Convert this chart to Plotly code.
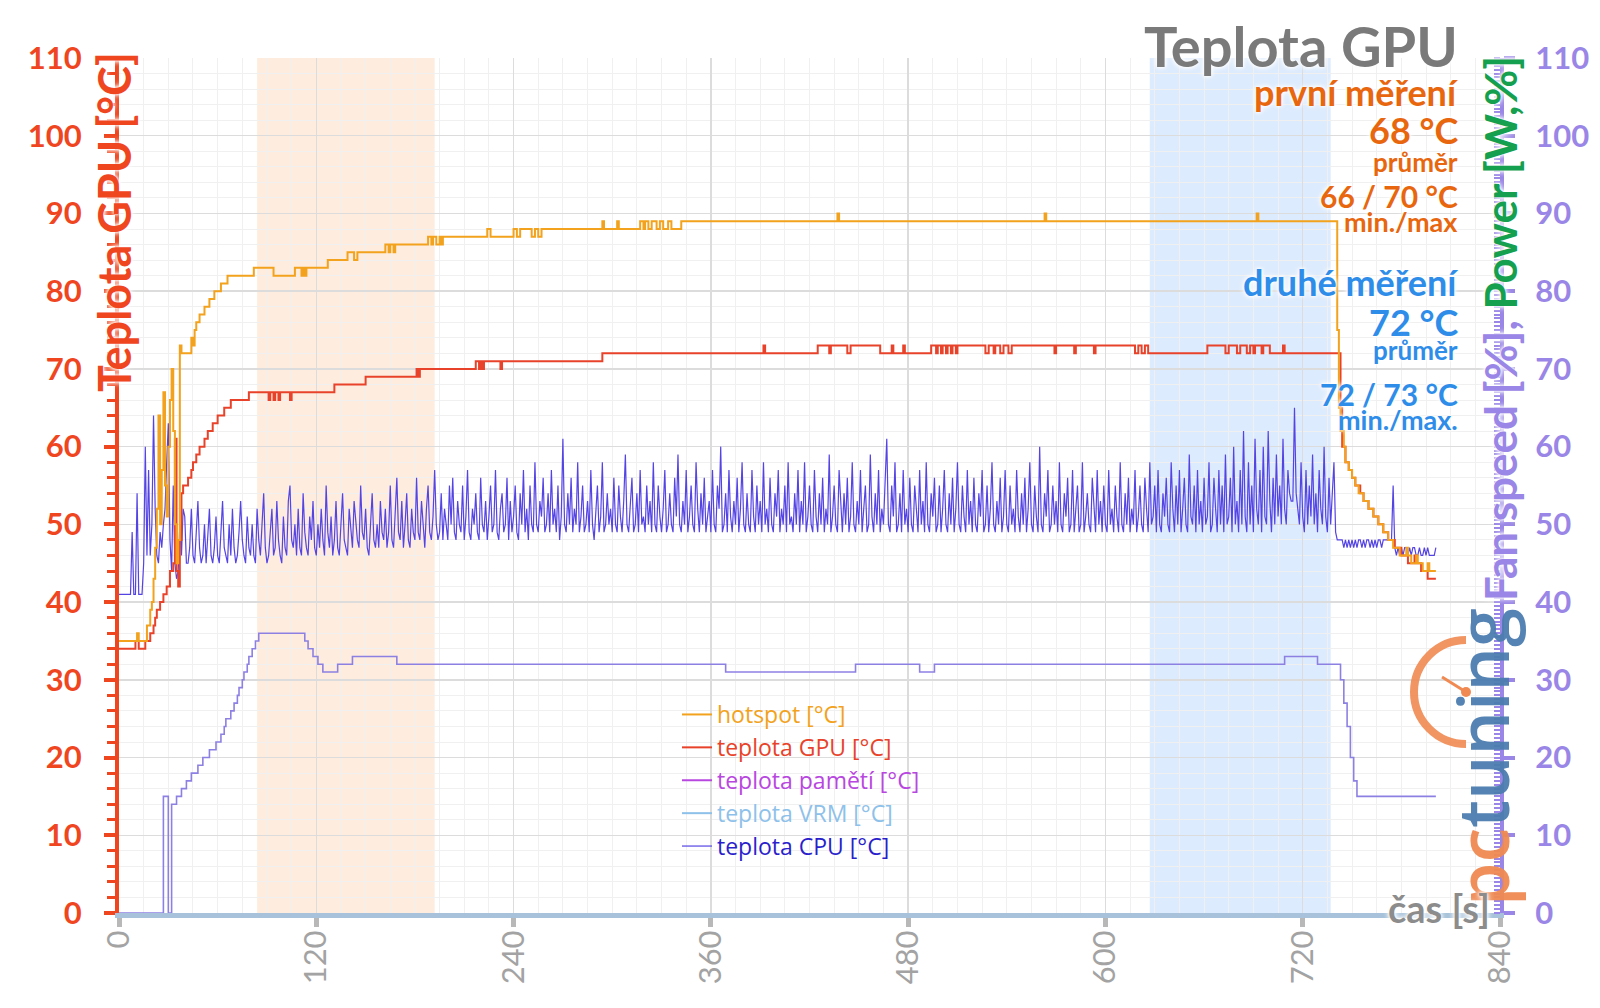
import plotly.graph_objects as go

# ------------------------------------------------------------------ data
# hotspot [°C] (change points, step shape)
hotspot_t = [0, 11, 12, 17, 19, 20, 21, 22, 23, 24, 25, 26, 27, 28, 29, 30, 31, 32, 33, 34, 35, 36, 37, 38,
             44, 45, 46, 47, 49, 52, 55, 58, 62, 66, 82, 94, 107, 111, 112, 113, 114, 127, 139, 143, 145,
             162, 164, 165, 167, 168, 188, 190, 191, 193, 195, 196, 197, 224, 226, 240, 242, 244, 251, 253,
             255, 257, 294, 295, 303, 304, 317, 319, 320, 322, 324, 327, 329, 331, 334, 336, 342, 437, 438,
             563, 564, 692, 693, 741, 742, 743, 745, 746, 748, 750, 752, 754, 757, 760, 763, 766, 769, 772,
             775, 779, 783, 784, 786, 789, 790, 793, 796, 797, 801]
hotspot_v = [35, 36, 35, 37, 39, 40, 43, 47, 52, 64, 50, 57, 67, 55, 51, 60, 66, 70, 62, 50, 45, 48, 73, 72,
             74, 73, 75, 76, 77, 78, 79, 80, 81, 82, 83, 82, 83, 82, 83, 82, 83, 84, 85, 84, 85,
             86, 85, 86, 85, 86, 87, 86, 87, 86, 87, 86, 87, 88, 87, 88, 87, 88, 87, 88,
             87, 88, 89, 88, 89, 88, 89, 88, 89, 88, 89, 88, 89, 88, 89, 88, 89, 90, 89,
             90, 89, 90, 89, 75, 65, 62, 60, 58, 57, 56, 55, 54, 53, 52, 51, 50, 49, 48,
             47, 46, 47, 46, 45, 46, 45, 44, 45, 44, 44]

# teplota GPU [°C]
gpu_t = [0, 10, 12, 16, 19, 21, 22, 23, 25, 27, 29, 31, 33, 34, 35, 36, 37, 38, 39, 42, 44, 45, 47, 49,
         52, 54, 57, 60, 64, 68, 79, 91, 92, 94, 95, 97, 98, 104, 105, 131, 150, 181, 182, 183, 217, 219,
         220, 221, 222, 232, 233, 294, 392, 393, 425, 432, 433, 443, 445, 463, 470, 471, 477, 478, 494,
         497, 498, 500, 501, 503, 504, 506, 507, 509, 510, 527, 529, 532, 533, 536, 538, 541, 543, 569,
         570, 581, 582, 593, 594, 618, 620, 622, 624, 626, 662, 673, 675, 680, 682, 686, 688, 690, 691,
         695, 696, 700, 708, 709, 743, 744, 746, 748, 750, 752, 755, 757, 760, 763, 766, 769, 772, 776,
         780, 784, 788, 789, 792, 796, 801]
gpu_v = [34, 35, 34, 35, 36, 37, 38, 39, 40, 41, 42, 44, 45, 61, 44, 42, 48, 54, 55, 56, 57, 58, 59, 60,
         61, 62, 63, 64, 65, 66, 67, 66, 67, 66, 67, 66, 67, 66, 67, 68, 69, 70, 69, 70, 71, 70,
         71, 70, 71, 70, 71, 72, 73, 72, 73, 72, 73, 72, 73, 72, 73, 72, 73, 72, 73,
         72, 73, 72, 73, 72, 73, 72, 73, 72, 73, 72, 73, 72, 73, 72, 73, 72, 73, 72,
         73, 72, 73, 72, 73, 72, 73, 72, 73, 72, 73, 72, 73, 72, 73, 72, 73, 72, 73,
         72, 73, 72, 73, 72, 65, 60, 58, 57, 56, 55, 54, 53, 52, 51, 50, 49, 48, 47,
         46, 45, 46, 45, 44, 43, 43]

# fan speed [%] (right axis)
fan_t = [0, 27, 30, 32, 35, 38, 41, 44, 48, 51, 55, 59, 62, 64, 65, 68, 70, 72, 73, 75, 76, 78, 79, 81,
         83, 85, 113, 115, 118, 121, 124, 133, 142, 169, 369, 448, 487, 496, 709, 729, 743, 745, 747,
         749, 751, 753, 801]
fan_v = [0, 15, 0, 14, 15, 16, 17, 18, 19, 20, 21, 22, 23, 24, 25, 26, 27, 28, 29, 30, 31, 32, 33, 34,
         35, 36, 35, 34, 33, 32, 31, 32, 33, 32, 31, 32, 31, 32, 33, 32, 30, 27, 24,
         20, 17, 15, 15]

# teplota CPU [°C], one sample per second from t = 0 s
cpu_v = [
    41, 41, 41, 41, 41, 41, 41, 41, 49, 41, 41, 54, 41, 41, 41, 45, 60, 46, 57, 46, 50, 64,
    52, 46, 45, 49, 47, 50, 52, 58, 63, 48, 44, 55, 45, 43, 44, 50, 46, 52, 51, 45,
    45, 47, 52, 46, 45, 49, 53, 47, 45, 46, 50, 45, 48, 52, 46, 45, 47, 51, 46, 45,
    49, 53, 47, 46, 45, 50, 46, 52, 47, 45, 46, 49, 53, 48, 46, 45, 51, 47, 46, 50,
    46, 45, 52, 48, 46, 50, 54, 47, 45, 46, 49, 52, 46, 47, 53, 48, 46, 45, 51, 47,
    46, 53, 55, 48, 47, 50, 46, 52, 47, 46, 54, 49, 47, 46, 51, 48, 53, 47, 46, 50,
    47, 52, 48, 46, 55, 49, 47, 51, 46, 48, 53, 47, 46, 50, 54, 48, 47, 46, 52, 49,
    47, 53, 50, 48, 47, 55, 49, 48, 52, 47, 46, 51, 54, 48, 47, 50, 47, 53, 49, 48,
    52, 47, 49, 55, 48, 47, 51, 56, 49, 48, 53, 47, 50, 54, 48, 47, 52, 49, 48, 56,
    49, 48, 53, 50, 47, 52, 55, 49, 48, 51, 57, 50, 48, 49, 54, 48, 52, 50, 48, 55,
    50, 56, 49, 48, 53, 50, 49, 55, 48, 51, 57, 49, 48, 52, 50, 54, 49, 48, 56, 50,
    49, 53, 48, 51, 55, 49, 50, 57, 49, 48, 52, 54, 49, 50, 56, 48, 53, 49, 51, 55,
    49, 48, 54, 50, 57, 49, 52, 48, 55, 50, 49, 58, 50, 49, 53, 51, 56, 49, 50, 54,
    49, 57, 50, 52, 49, 55, 48, 51, 61, 50, 49, 54, 50, 56, 49, 52, 50, 58, 49, 51,
    55, 49, 50, 53, 49, 57, 50, 48, 52, 55, 49, 51, 58, 49, 50, 54, 50, 52, 49, 56,
    50, 49, 55, 51, 49, 53, 59, 50, 49, 52, 56, 49, 50, 54, 49, 57, 50, 51, 49, 55,
    50, 53, 49, 58, 50, 49, 55, 51, 49, 52, 57, 49, 50, 54, 50, 49, 56, 51, 59, 50,
    49, 53, 50, 57, 49, 51, 55, 50, 49, 58, 52, 49, 54, 50, 56, 49, 51, 53, 49, 57,
    50, 49, 55, 52, 60, 49, 50, 54, 49, 57, 51, 49, 53, 50, 56, 49, 52, 58, 50, 49,
    54, 50, 49, 57, 51, 49, 55, 50, 53, 49, 58, 50, 52, 49, 56, 50, 49, 54, 51, 57,
    49, 52, 50, 55, 49, 58, 50, 51, 49, 54, 50, 57, 49, 53, 50, 58, 49, 51, 55, 50,
    49, 57, 51, 49, 54, 50, 56, 49, 52, 50, 59, 49, 51, 55, 50, 49, 57, 52, 49, 54,
    50, 56, 49, 51, 58, 50, 49, 53, 50, 57, 49, 52, 55, 49, 50, 59, 51, 49, 54, 50,
    57, 49, 52, 50, 56, 61, 50, 49, 55, 51, 58, 49, 50, 54, 49, 57, 50, 52, 49, 56,
    50, 49, 55, 52, 49, 57, 50, 53, 49, 58, 50, 49, 54, 51, 56, 49, 50, 55, 49, 52,
    57, 50, 49, 54, 50, 56, 49, 52, 58, 50, 49, 55, 51, 49, 57, 50, 53, 49, 56, 50,
    49, 54, 51, 57, 49, 50, 55, 49, 52, 58, 50, 49, 53, 50, 56, 49, 51, 57, 50, 49,
    55, 50, 52, 49, 57, 51, 49, 54, 50, 56, 49, 52, 58, 50, 49, 55, 51, 49, 60, 50,
    49, 54, 51, 57, 49, 50, 55, 50, 53, 49, 58, 50, 49, 54, 51, 56, 49, 50, 57, 49,
    52, 55, 49, 50, 58, 49, 51, 54, 50, 49, 56, 52, 49, 57, 50, 53, 49, 55, 50, 49,
    57, 50, 52, 49, 55, 51, 49, 58, 50, 49, 54, 50, 56, 49, 52, 50, 57, 49, 51, 55,
    50, 49, 56, 52, 49, 58, 50, 51, 55, 49, 57, 50, 49, 54, 51, 56, 50, 49, 58, 52,
    49, 55, 50, 57, 49, 52, 56, 50, 49, 59, 51, 50, 55, 49, 57, 50, 53, 49, 56, 50,
    51, 58, 49, 50, 56, 52, 49, 57, 50, 55, 49, 59, 50, 51, 56, 49, 60, 50, 53, 49,
    57, 50, 62, 51, 49, 58, 50, 55, 49, 61, 52, 50, 57, 49, 60, 51, 50, 62, 53, 49,
    56, 50, 59, 51, 55, 50, 61, 52, 50, 57, 54, 53, 53, 65, 54, 52, 50, 58, 51, 49,
    57, 50, 55, 51, 59, 50, 54, 49, 57, 52, 50, 60, 51, 49, 56, 50, 54, 58, 49, 48,
    48, 48, 48, 47, 48, 47, 48, 47, 48, 47, 48, 47, 48, 48, 47, 48, 47, 48, 48, 47,
    48, 47, 48, 47, 48, 48, 47, 48, 48, 48, 48, 48, 48, 55, 47, 46, 47, 46, 47, 46,
    47, 47, 46, 47, 46, 47, 47, 46, 46, 47, 46, 46, 47, 46, 47, 46, 46, 46, 46, 47,
]
cpu_t = list(range(len(cpu_v)))

x_ticks = [0, 120, 240, 360, 480, 600, 720, 840]
y_ticks = [0, 10, 20, 30, 40, 50, 60, 70, 80, 90, 100, 110]
band_first = [84, 192]     # první měření
band_second = [627, 737]   # druhé měření

series_names = ["hotspot [°C]", "teplota GPU [°C]", "teplota pamětí [°C]",
                "teplota VRM [°C]", "teplota CPU [°C]"]
first_texts = ["první měření", "68 °C", "průměr", "66 / 70 °C", "min./max"]
second_texts = ["druhé měření", "72 °C", "průměr", "72 / 73 °C", "min./max."]

# ------------------------------------------------------------------ style
FONT = "Lato"
C_HOT = "#F2A21C"
C_GPU = "#E8432A"
C_MEM = "#B847E0"
C_VRM = "#8EC1EA"
C_CPU = "#5544E4"
C_FAN = "#8D80E3"
C_LEFT = "#F0461F"
C_RIGHT = "#9A86E6"
C_GREEN = "#14A04E"
C_FIRST = "#E8660E"
C_SECOND = "#2F8DEA"
GLOW = "0px 0px 3px #ffffff, 0px 0px 5px #ffffff, 0px 0px 7px #ffffff"

W, H = 1600, 1008
L, R, T, B = 119, 100, 58, 95
PW, PH = W - L - R, H - T - B


def px(x):
    return (x - L) / PW


def py(y):
    return (H - B - y) / PH


fig = go.Figure()

fig.add_trace(go.Scatter(x=cpu_t, y=cpu_v, mode="lines", line=dict(color=C_CPU, width=1.2),
                         name=f'<span style="color:#2B1FCC">{series_names[4]}</span>',
                         legendrank=5))
fig.add_trace(go.Scatter(x=fan_t, y=fan_v, mode="lines", yaxis="y2", line=dict(color=C_FAN, width=1.6, shape="hv"),
                         showlegend=False, name="fan"))
fig.add_trace(go.Scatter(x=[None], y=[None], mode="lines", line=dict(color=C_MEM, width=2),
                         name=f'<span style="color:{C_MEM}">{series_names[2]}</span>', legendrank=3))
fig.add_trace(go.Scatter(x=[None], y=[None], mode="lines", line=dict(color=C_VRM, width=2),
                         name=f'<span style="color:{C_VRM}">{series_names[3]}</span>', legendrank=4))
fig.add_trace(go.Scatter(x=gpu_t, y=gpu_v, mode="lines", line=dict(color=C_GPU, width=2, shape="hv"),
                         name=f'<span style="color:{C_GPU}">{series_names[1]}</span>', legendrank=2))
fig.add_trace(go.Scatter(x=hotspot_t, y=hotspot_v, mode="lines", line=dict(color=C_HOT, width=2, shape="hv"),
                         name=f'<span style="color:{C_HOT}">{series_names[0]}</span>', legendrank=1))

shapes = [
    dict(type="rect", xref="x", yref="paper", x0=band_first[0], x1=band_first[1], y0=0, y1=1,
         fillcolor="rgba(251,196,150,0.30)", line=dict(width=0), layer="below"),
    dict(type="rect", xref="x", yref="paper", x0=band_second[0], x1=band_second[1], y0=0, y1=1,
         fillcolor="rgba(168,204,250,0.40)", line=dict(width=0), layer="below"),
    # pctuning logo: gauge arc + needle
    dict(type="path", xref="paper", yref="paper", xsizemode="pixel", ysizemode="pixel",
         xanchor=px(1466), yanchor=py(692),
         path="M 0,52 C -28.7,52 -52,28.7 -52,0 C -52,-28.7 -28.7,-52 0,-52",
         line=dict(color="#F08A52", width=8), layer="above", opacity=0.9),
    dict(type="line", xref="paper", yref="paper", xsizemode="pixel", ysizemode="pixel",
         xanchor=px(1466), yanchor=py(692), x0=-24, y0=15, x1=0, y1=0,
         line=dict(color="#F08A52", width=3), layer="above"),
    dict(type="circle", xref="paper", yref="paper", xsizemode="pixel", ysizemode="pixel",
         xanchor=px(1466), yanchor=py(692), x0=-5, y0=-5, x1=5, y1=5,
         fillcolor="#F08A52", line=dict(width=0), layer="above"),
]

ann = []


def add_text(text, x, y, size, color, xanchor="right", bold=True, angle=0, shadow=GLOW):
    ann.append(dict(text=text, x=px(x), y=py(y), xref="paper", yref="paper", showarrow=False,
                    xanchor=xanchor, yanchor="middle", textangle=angle,
                    font=dict(family=FONT, size=size, color=color, weight=700 if bold else 400,
                              shadow=shadow)))


# logo text
ann.append(dict(text='<span style="color:#F08A52">pc</span><span style="color:#4C7DB0">tuning</span>',
                x=px(1482), y=py(757), xref="paper", yref="paper", showarrow=False,
                xanchor="center", yanchor="middle", textangle=-90, opacity=0.95,
                font=dict(family="Open Sans", size=70, weight=600)))

add_text("Teplota GPU", 1460, 46, 56, "#7A7A7A")
sizes = [36, 36, 26, 30, 27]
ys1 = [92, 130, 162, 196, 221]
ys2 = [282, 322, 350, 394, 419]
for t_, y_, s_ in zip(first_texts, ys1, sizes):
    add_text(t_, 1460, y_, s_, C_FIRST)
for t_, y_, s_ in zip(second_texts, ys2, sizes):
    add_text(t_, 1460, y_, s_, C_SECOND)

# axis titles
add_text("Teplota GPU [°C]", 114, 222, 45, C_LEFT, xanchor="center", angle=-90)
add_text(f'<span style="color:{C_RIGHT}">Fan speed [%], </span><span style="color:{C_GREEN}">Power [W,%]</span>',
         1500, 329, 44, C_RIGHT, xanchor="center", angle=-90)
add_text("čas [s]", 1439, 908, 38, "#8C8C8C", xanchor="center")

axis_common = dict(range=[0, 110], tickvals=y_ticks, zeroline=False, fixedrange=True)

fig.update_layout(
    width=W, height=H,
    margin=dict(l=L, r=R, t=T, b=B, pad=0),
    paper_bgcolor="white", plot_bgcolor="white",
    font=dict(family=FONT),
    showlegend=True,
    legend=dict(x=px(677), y=py(693), xanchor="left", yanchor="top", bgcolor="rgba(0,0,0,0)",
                font=dict(family="Open Sans", size=23), itemwidth=30, tracegroupgap=0),
    xaxis=dict(range=[0, 840], tickvals=x_ticks, tickangle=-90, zeroline=False, fixedrange=True,
               showgrid=True, gridcolor="#DCDCDC", gridwidth=1.5,
               minor=dict(dtick=15, tick0=0, showgrid=True, gridcolor="#F0F0F0", gridwidth=1),
               showline=True, linecolor="#A7C2DA", linewidth=5,
               ticks="outside", ticklen=9, tickwidth=5, tickcolor="#B8B8B8",
               tickfont=dict(family=FONT, size=31, color="#A3A3A3"), ticklabelstandoff=-9),
    yaxis=dict(**axis_common, showgrid=True, gridcolor="#DCDCDC", gridwidth=1.5,
               minor=dict(dtick=2, tick0=0, showgrid=True, gridcolor="#F0F0F0", gridwidth=1,
                          ticks="outside", ticklen=8, tickwidth=3, tickcolor=C_LEFT),
               showline=True, linecolor=C_LEFT, linewidth=4,
               ticks="outside", ticklen=11, tickwidth=4, tickcolor=C_LEFT,
               tickfont=dict(family=FONT, size=31, color=C_LEFT, weight=700), ticklabelstandoff=16),
    yaxis2=dict(**axis_common, overlaying="y", side="right", showgrid=False,
                minor=dict(dtick=0.5, tick0=0, ticks="inside", ticklen=6, tickwidth=2, tickcolor=C_RIGHT),
                showline=True, linecolor=C_RIGHT, linewidth=4,
                ticks="outside", ticklen=11, tickwidth=4, tickcolor=C_RIGHT,
                tickfont=dict(family=FONT, size=31, color=C_RIGHT, weight=700), ticklabelstandoff=14),
    yaxis3=dict(**axis_common, overlaying="y", side="left", showgrid=False, showline=False,
                ticks="inside", ticklen=12, tickwidth=4, tickcolor=C_LEFT, showticklabels=False),
    yaxis4=dict(**axis_common, overlaying="y", side="right", showgrid=False, showline=False,
                ticks="inside", ticklen=12, tickwidth=4, tickcolor=C_RIGHT, showticklabels=False),
    shapes=shapes,
    annotations=ann,
)

fig.write_html("out.html", config={"displayModeBar": False, "staticPlot": True},
               post_script="document.body.style.margin='0';document.body.style.overflow='hidden';")
